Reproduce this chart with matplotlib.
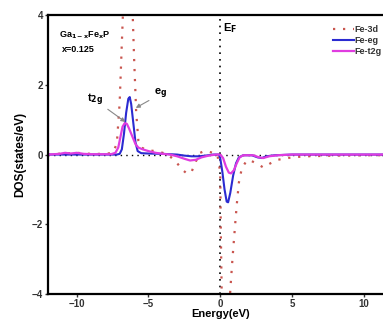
import matplotlib
matplotlib.use('Agg')
import matplotlib.pyplot as plt

plt.rcParams['font.family'] = ['Liberation Sans', 'DejaVu Sans']
plt.rcParams['font.weight'] = 'bold'
plt.rcParams['mathtext.default'] = 'bf'

# Fe-3d total (dotted)
e_3d = [-12, -11, -10, -9, -8, -7.5, -7.2, -7.0, -6.85, -6.75, -6.6, -6.4, -6.2, -6.1,
        -6.0, -5.85, -5.7, -5.5, -5.0, -4.5, -4.0, -3.5, -3.0, -2.6, -2.3, -2.0, -1.7,
        -1.4, -1.1, -0.8, -0.5, -0.2, 0.0, 0.05, 0.12, 0.3, 0.5, 0.7, 0.85, 1.04, 1.16,
        1.3, 1.5, 1.8, 2.0, 2.5, 3.0, 3.5, 4.0, 5.0, 6.0, 8.0, 10.0, 12.0]
dos_3d = [0, 0.03, 0.05, 0.02, 0.02, 0.05, 0.3, 1.5, 3.2, 4.3, 6.0, 6.8, 5.5, 4.1,
          2.8, 1.2, 0.4, 0.2, 0.12, 0.1, 0.05, -0.05, -0.25, -0.45, -0.55, -0.5, -0.2,
          0.05, 0.1, 0.08, 0.05, 0.0, -0.5, -2.5, -4.5, -6.0, -5.5, -3.9, -3.0, -2.0, -1.4,
          -0.8, -0.4, -0.2, -0.15, -0.25, -0.37, -0.25, -0.15, -0.08, -0.05, -0.03, -0.02, -0.02]

# Fe-eg
e_eg = [-12, -7.2, -7.0, -6.85, -6.7, -6.55, -6.4, -6.3, -6.2, -6.05, -5.9, -5.75, -5.5,
        -5.0, -4.0, -3.0, -2.5, -2.0, -1.5, -1.0, -0.5, -0.1, 0.0, 0.15, 0.3, 0.45, 0.55,
        0.7, 0.9, 1.1, 1.3, 1.6, 2.2, 2.6, 2.9, 3.2, 3.8, 5.0, 12.0]
dos_eg = [0, 0, 0.02, 0.15, 0.6, 1.2, 1.6, 1.65, 1.45, 0.9, 0.35, 0.1, 0.04,
          0.03, 0.02, 0, -0.03, -0.05, -0.05, -0.03, 0, 0, -0.1, -0.5, -1.0, -1.35, -1.37,
          -1.1, -0.6, -0.25, -0.08, -0.02, -0.02, -0.08, -0.1, -0.05, -0.02, 0, 0]

# Fe-t2g
e_t2g = [-12, -11.2, -10.8, -10.4, -10, -9.5, -9, -7.6, -7.3, -7.1, -6.95, -6.8, -6.65,
         -6.5, -6.35, -6.2, -6.05, -5.9, -5.7, -5.4, -5.0, -4.5, -4.0, -3.5, -3.0, -2.5,
         -2.1, -1.7, -1.3, -0.8, -0.3, 0.0, 0.2, 0.4, 0.6, 0.75, 0.95, 1.15, 1.35, 1.6,
         2.3, 2.7, 3.0, 3.4, 4.0, 5.0, 12.0]
dos_t2g = [0, 0.02, 0.05, 0.03, 0.05, 0.02, 0.01, 0.01, 0.05, 0.2, 0.5, 0.8, 0.9,
           0.88, 0.75, 0.6, 0.45, 0.3, 0.2, 0.15, 0.1, 0.05, 0.02, 0, -0.05, -0.12,
           -0.17, -0.15, -0.08, -0.03, 0, 0, -0.1, -0.35, -0.52, -0.54, -0.45, -0.25, -0.08, -0.02,
           -0.02, -0.08, -0.1, -0.05, -0.02, 0, 0]

x_ticks = [-10, -5, 0, 5, 10]
y_ticks = [-4, -2, 0, 2, 4]

fig = plt.figure(figsize=(3.83, 3.22), dpi=100)
ax = fig.add_axes([0.125, 0.087, 0.90, 0.866])

ax.axvline(0, color='black', ls=(0, (1, 3)), lw=1.2)
ax.axhline(0, color='black', ls=(0, (1, 3)), lw=1.0)

ax.plot(e_3d, dos_3d, color='#c9564f', ls=(0, (1, 3.5)), lw=1.6, label='Fe-3d')
ax.plot(e_eg, dos_eg, color='#2b2bd1', lw=1.5, label='Fe-eg')
ax.plot(e_t2g, dos_t2g, color='#e03ce0', lw=1.6, label='Fe-t2g')

ax.set_xlim(-12, 12)
ax.set_ylim(-4, 4)
ax.set_xticks(x_ticks)
ax.set_yticks(y_ticks)
ax.tick_params(labelsize=7, length=2, width=1, pad=1.5, colors='#333333')
for s in ax.spines.values():
    s.set_linewidth(1.6)

ax.set_xlabel('Energy(eV)', fontsize=8, fontweight='bold', labelpad=0)
ax.set_ylabel('DOS(states/eV)', fontsize=8.5, fontweight='bold', labelpad=4)

ax.text(-11.2, 3.35, r'Ga$_{1-x}$Fe$_x$P', fontsize=6.5, fontweight='bold')
ax.text(-11.0, 2.95, 'x=0.125', fontsize=6.5, fontweight='bold')
ax.text(0.2, 3.55, r'E$_F$', fontsize=8, fontweight='bold')

arrow = dict(arrowstyle='-|>', color='#888888', lw=0.8, mutation_scale=6)
ax.annotate(r't$_{2g}$', xy=(-6.45, 0.89), xytext=(-9.3, 1.5), fontsize=8,
            fontweight='bold', arrowprops=arrow)
ax.annotate(r'e$_g$', xy=(-6.05, 1.3), xytext=(-4.6, 1.7), fontsize=8,
            fontweight='bold', arrowprops=arrow)

leg = ax.legend(loc='upper right', bbox_to_anchor=(0.985, 0.985), frameon=False,
                fontsize=6.5, handlelength=2.3, handletextpad=0.1, labelspacing=0.25,
                borderaxespad=0.2)
for t in leg.get_texts():
    t.set_fontweight('bold')
    t.set_color('#333333')

fig.savefig('out.png', dpi=100)
